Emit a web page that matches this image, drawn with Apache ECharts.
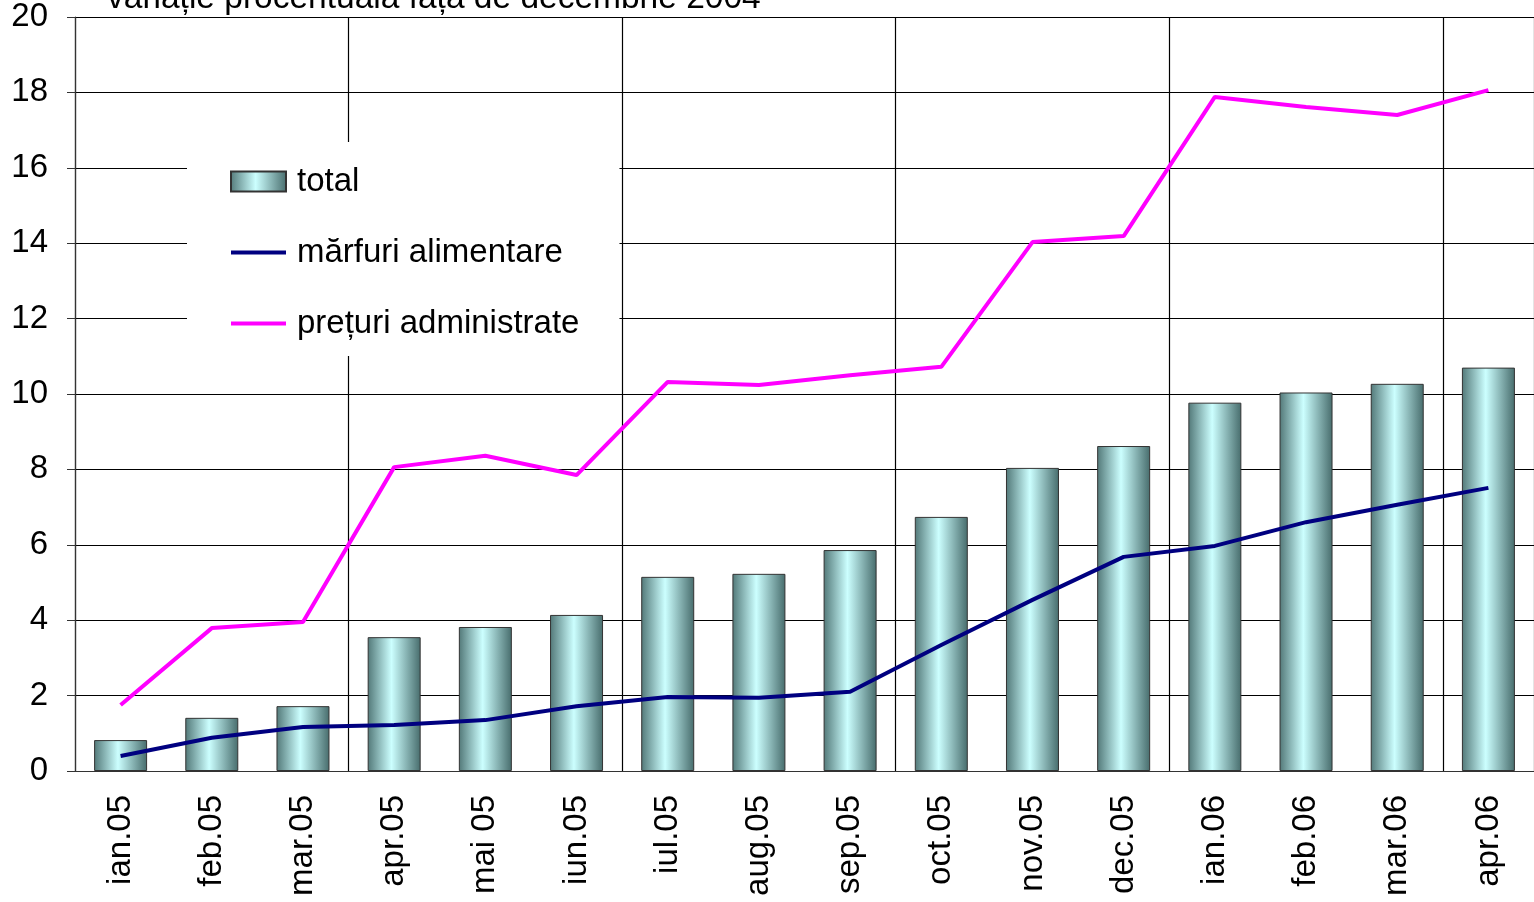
<!DOCTYPE html>
<html><head><meta charset="utf-8">
<script src="https://cdn.jsdelivr.net/npm/echarts@6/dist/echarts.min.js"></script>
<style>html,body{margin:0;padding:0;background:#fff}#c{width:1534px;height:902px}</style>
</head><body><div id="c"></div>
<script>
const categories = ['ian.05','feb.05','mar.05','apr.05','mai 05','iun.05','iul.05','aug.05','sep.05','oct.05','nov.05','dec.05','ian.06','feb.06','mar.06','apr.06'];
const total = [0.82,1.41,1.72,3.55,3.82,4.14,5.15,5.23,5.86,6.74,8.04,8.62,9.77,10.04,10.27,10.70];
const marfuriAlimentare = [0.40,0.88,1.17,1.22,1.35,1.72,1.96,1.94,2.10,3.34,4.54,5.68,5.97,6.60,7.06,7.51];
const preturiAdministrate = [1.75,3.79,3.95,8.06,8.36,7.85,10.32,10.24,10.50,10.72,14.03,14.19,17.88,17.61,17.40,18.06];
const titleText = 'variație procentuală față de decembrie 2004';

const FONT = 'Liberation Sans, Arial, sans-serif';
const chart = echarts.init(document.getElementById('c'));
const barGrad = new echarts.graphic.LinearGradient(0,0,1,0,[
  {offset:0,color:'#527878'},{offset:0.45,color:'#ccffff'},{offset:1,color:'#476c6c'}]);
const lineIcon = 'path://M0,0 M55,20 M0,8 L55,8 L55,12 L0,12 Z';
chart.setOption({
  animation:false,
  backgroundColor:'#fff',
  textStyle:{fontFamily:FONT},
  graphic:[{type:'text',left:107,top:-18,z:100,style:{text:titleText,font:'33.5px '+FONT,fill:'#000'}}],
  grid:{left:75,right:0,top:17,bottom:131,containLabel:false},
  legend:{
    orient:'vertical',left:187,top:142,
    backgroundColor:'#fff',padding:[23,40,16,43],
    itemWidth:55,itemHeight:20,itemGap:38,
    textStyle:{fontSize:33,color:'#000',lineHeight:33,padding:[0,0,0,6],fontFamily:FONT},
    data:[{name:'total',icon:'rect'},
          {name:'mărfuri alimentare',icon:lineIcon,itemStyle:{color:'#000080'}},
          {name:'prețuri administrate',icon:lineIcon,itemStyle:{color:'#ff00ff'}}],
    z:10
  },
  xAxis:{
    type:'category',data:categories,boundaryGap:true,
    axisLine:{lineStyle:{color:'#333',width:1.2}},
    axisTick:{interval:2,length:10,lineStyle:{color:'#333'}},
    splitLine:{show:true,interval:2,lineStyle:{color:'#000',width:1.2}},
    axisLabel:{interval:0,rotate:90,fontSize:33,color:'#000',margin:24,fontFamily:FONT}
  },
  yAxis:{
    type:'value',min:0,max:20,interval:2,
    axisLine:{show:true,lineStyle:{color:'#333',width:1.2}},
    axisTick:{show:true,length:8,lineStyle:{color:'#333'}},
    splitLine:{show:true,lineStyle:{color:'#000',width:1.2}},
    axisLabel:{fontSize:33,color:'#000',margin:27,fontFamily:FONT}
  },
  series:[
    {name:'total',type:'bar',data:total,barWidth:53,
     itemStyle:{color:barGrad,borderColor:'#333',borderWidth:1}},
    {name:'mărfuri alimentare',type:'line',data:marfuriAlimentare,symbol:'none',
     lineStyle:{color:'#000080',width:4},itemStyle:{color:'#000080'}},
    {name:'prețuri administrate',type:'line',data:preturiAdministrate,symbol:'none',
     lineStyle:{color:'#ff00ff',width:4},itemStyle:{color:'#ff00ff'}}
  ]
});
</script></body></html>
